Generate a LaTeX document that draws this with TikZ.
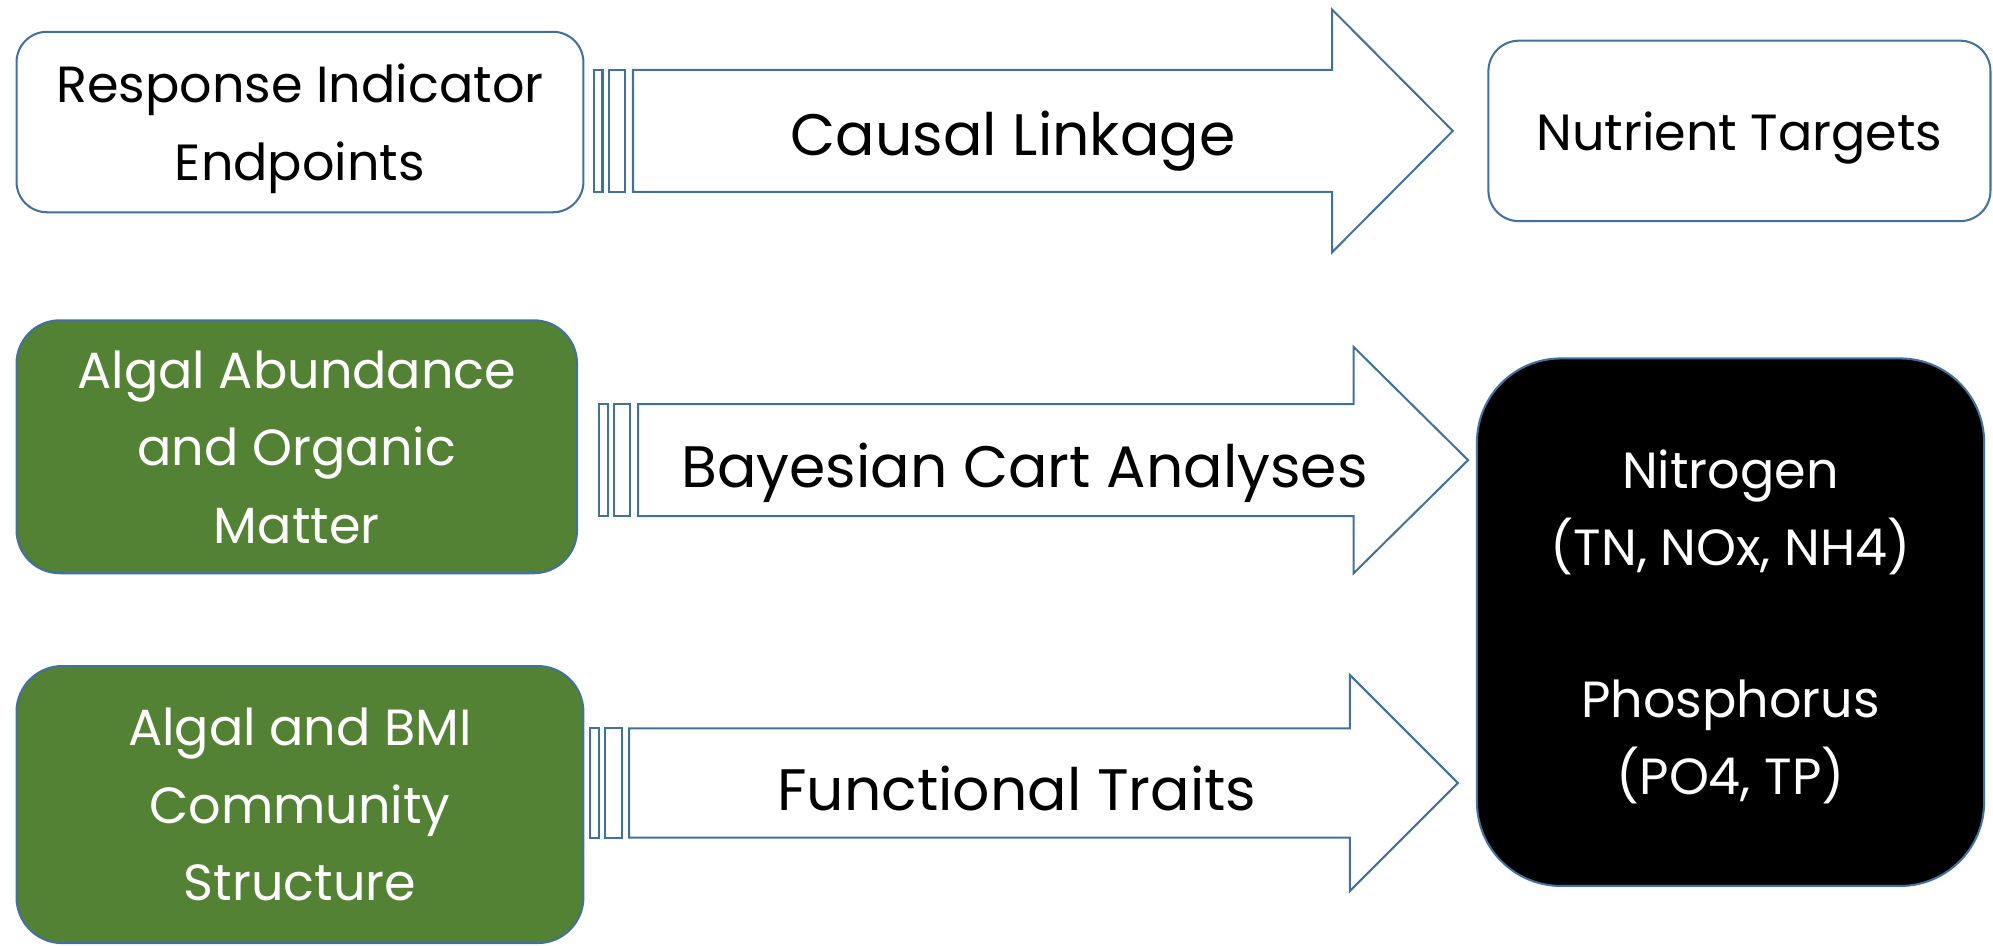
\documentclass[tikz,border=0pt]{standalone}
\usepackage{fontspec}
\setmainfont{Poppins}
\definecolor{edgeblue}{HTML}{41719C}
\definecolor{algaegreen}{HTML}{548235}
\tikzset{endpoint/.style={draw=edgeblue,line width=1.6pt,fill=white,align=center,inner sep=0pt,
                          text depth=0pt,font=\fontsize{40}{61}\selectfont},
         green endpoint/.style={endpoint,fill=algaegreen,text=white},
         arrowline/.style={draw=edgeblue,line width=1.6pt,fill=white,line join=miter},
         linkage/.style={text depth=0pt,font=\fontsize{46}{60}\selectfont},
        }
% body x, head x, tip x, middle y, half body, half head
\newcommand{\stripedarrow}[6]{%
  \draw[arrowline](#1-31,#4-#5) rectangle (#1-24,#4+#5);
  \draw[arrowline](#1-19,#4-#5) rectangle (#1-6,#4+#5);
  \draw[arrowline](#1,#4-#5)--(#2,#4-#5)--(#2,#4-#6)--(#3,#4)--(#2,#4+#6)--(#2,#4+#5)--(#1,#4+#5)--cycle;}

\begin{document}
\begin{tikzpicture}[x={(1pt,0)},y={(0,-1pt)}]
    \useasboundingbox (0,0) rectangle (1568,744);
    \stripedarrow{498}{1048}{1143}{103}{48}{95.5}
    \stripedarrow{502}{1065}{1155}{362}{44}{89}
    \stripedarrow{495}{1062}{1147}{616}{43}{85}
    \node[endpoint,rounded corners=24pt,minimum width=446pt,minimum height=142pt](endpoints)at(236,96){Response Indicator\\Endpoints};
    \node[endpoint,rounded corners=24pt,minimum width=395pt,minimum height=142pt](targets)at(1368.5,103){Nutrient Targets};
    \node[green endpoint,rounded corners=34pt,minimum width=441pt,minimum height=199pt](abundance)at(233.5,351.5){Algal Abundance\\and Organic\\Matter};
    \node[green endpoint,rounded corners=36pt,minimum width=446pt,minimum height=218pt](community)at(236,633){Algal and BMI\\Community\\Structure};
    \node[endpoint,fill=black,text=white,rounded corners=66pt,minimum width=399pt,minimum height=415pt](nutrients)at(1361.5,489.5){Nitrogen\\(TN, NOx, NH4)\\[58pt]Phosphorus\\(PO4, TP)};
    \node[linkage](linkage)at(797,105){Causal Linkage};
    \node[linkage](cart)at(806,366){Bayesian Cart Analyses};
    \node[linkage](traits)at(800,620){Functional Traits};
\end{tikzpicture}
\end{document}
